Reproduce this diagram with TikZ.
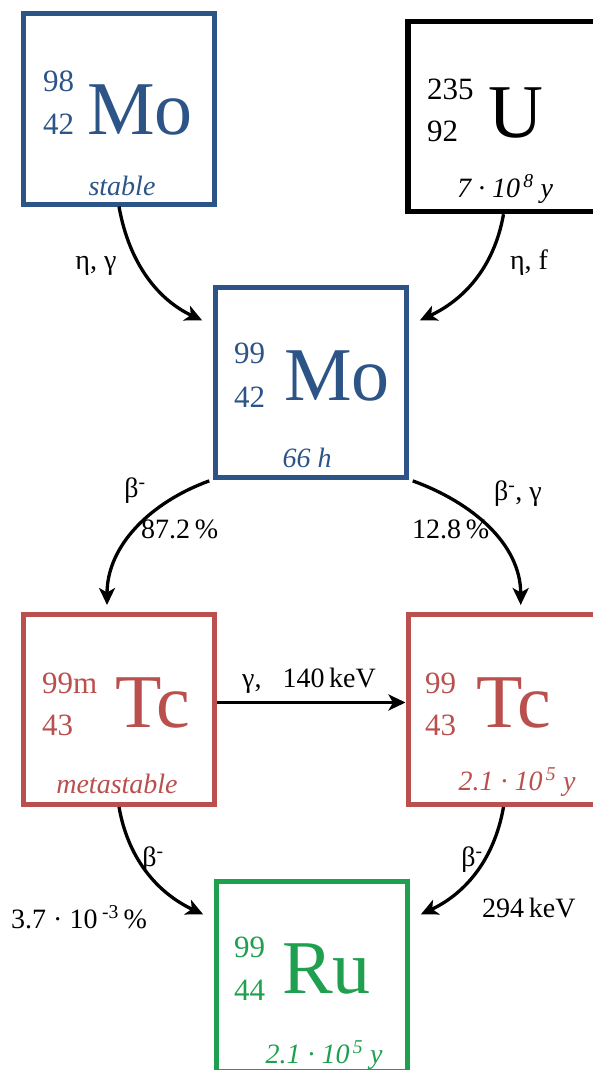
\documentclass[tikz,border=0pt]{standalone}
\usepackage{fontspec}
\setmainfont{Liberation Serif}
\usetikzlibrary{arrows.meta,positioning}
\definecolor{moblue}{HTML}{2C5487}
\definecolor{tcred}{HTML}{B9504E}
\definecolor{rugreen}{HTML}{1FA04F}

\begin{document}
\begin{tikzpicture}[x=1pt,y=1pt,
      box/.style={rectangle,draw,line width=5pt,minimum width=191pt,
                  minimum height=190pt,inner sep=0pt},
      sym/.style={inner sep=0pt,anchor=base west,font=\fontsize{76}{76}\selectfont},
      num/.style={inner sep=0pt,anchor=base west,font=\fontsize{31}{31}\selectfont},
      life/.style={inner sep=0pt,anchor=base,font=\fontsize{28}{28}\selectfont\itshape},
      lbl/.style={inner sep=0pt,font=\fontsize{28}{28}\selectfont},
      a/.style={-{Stealth[length=17pt,width=16pt,inset=4.5pt]},line width=3.3pt}]
  \clip (0,0) rectangle (593,-1070);
  % nuclide boxes
  \node[box,draw=moblue]  (mo98)  at (119,-109)   {};
  \node[box,line width=5.5pt] (u235) at (503.5,-116.5) {};
  \node[box,draw=moblue]  (mo99)  at (311,-382)   {};
  \node[box,draw=tcred]   (tc99m) at (119,-709.5) {};
  \node[box,draw=tcred]   (tc99)  at (503.5,-709.5) {};
  \node[box,draw=rugreen] (ru99)  at (312,-976)   {};
  % 98Mo
  \node[num,moblue]  (mo98a) at (43,-92)  {98};
  \node[num,moblue]  (mo98z) at (43,-135) {42};
  \node[sym,moblue]  (mo98s) at (87,-135) {Mo};
  \node[life,moblue] (mo98t) at (122,-195) {stable};
  % 235U
  \node[num] (u235a) at (427,-100) {235};
  \node[num] (u235z) at (427,-142) {92};
  \node[sym] (u235s) at (488,-138) {U};
  \node[life] (u235t) at (505,-197) {7\ ·\ 10\textsuperscript{\,8}\ y};
  % 99Mo
  \node[num,moblue]  (mo99a) at (234,-363) {99};
  \node[num,moblue]  (mo99z) at (234,-407) {42};
  \node[sym,moblue]  (mo99s) at (284,-400) {Mo};
  \node[life,moblue] (mo99t) at (307,-467) {66 h};
  % 99mTc
  \node[num,tcred]  (tc99ma) at (42,-693)  {99m};
  \node[num,tcred]  (tc99mz) at (42,-735)  {43};
  \node[sym,tcred]  (tc99ms) at (115,-727) {Tc};
  \node[life,tcred] (tc99mt) at (117,-793) {metastable};
  % 99Tc
  \node[num,tcred]  (tc99a) at (425,-693) {99};
  \node[num,tcred]  (tc99z) at (425,-735) {43};
  \node[sym,tcred]  (tc99s) at (476,-727) {Tc};
  \node[life,tcred] (tc99t) at (517,-790) {2.1\ ·\ 10\textsuperscript{\,5}\ y};
  % 99Ru
  \node[num,rugreen]  (ru99a) at (234,-957)  {99};
  \node[num,rugreen]  (ru99z) at (234,-1000) {44};
  \node[sym,rugreen]  (ru99s) at (282,-993)  {Ru};
  \node[life,rugreen] (ru99t) at (324,-1063) {2.1\ ·\ 10\textsuperscript{\,5}\ y};
  % transitions
  \draw[a,shorten >=12pt] (mo98.south) to[out=-80,in=155] (mo99.150);
  \draw[a,shorten >=12pt] (u235.south) to[out=-100,in=25] (mo99.30);
  \draw[a,shorten <=4pt,shorten >=7pt] (mo99.south west) to[out=200,in=90] (tc99m.97);
  \draw[a,shorten <=4pt,shorten >=7pt] (mo99.south east) to[out=-20,in=90] (tc99.80);
  \draw[a] ([yshift=7pt]tc99m.east) -- ([yshift=7pt]tc99.west);
  \draw[a,shorten >=12pt] (tc99m.south) to[out=-80,in=155] (ru99.150);
  \draw[a,shorten >=12pt] (tc99.south) to[out=-100,in=25] (ru99.30);
  % labels
  \node[lbl] (ng)   at (96,-266)  {η, γ};
  \node[lbl] (nf)   at (529,-263) {η, f};
  \node[lbl] (bl)   at (135,-491) {β\textsuperscript{-}};
  \node[lbl,anchor=base west] (pl) at (141,-538) {87.2\,\%};
  \node[lbl] (br)   at (518,-494) {β\textsuperscript{-}, γ};
  \node[lbl,anchor=base west] (pr) at (412,-538) {12.8\,\%};
  \node[lbl,anchor=base] (gam) at (309,-687) {γ,\enskip\ 140\,keV};
  \node[lbl] (bll)  at (153,-860) {β\textsuperscript{-}};
  \node[lbl,anchor=base west] (pll) at (11,-928) {3.7\ ·\ 10\,\textsuperscript{-3}\,\%};
  \node[lbl] (blr)  at (472,-860) {β\textsuperscript{-}};
  \node[lbl,anchor=base west] (kev) at (482,-917) {294\,keV};
\end{tikzpicture}
\end{document}
